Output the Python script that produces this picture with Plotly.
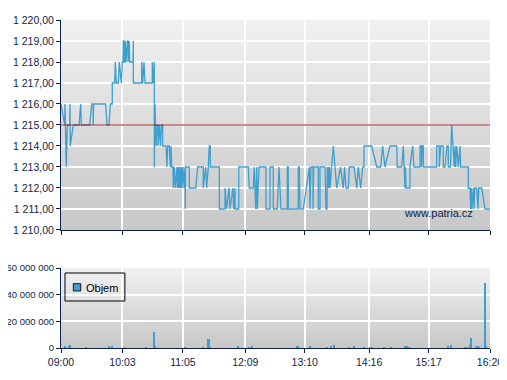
import plotly.graph_objects as go

# ---- data ----
time_labels = ["09:00", "10:03", "11:05", "12:09", "13:10", "14:16", "15:17", "16:20"]
time_ticks = [0, 63, 125, 189, 250, 316, 377, 440]  # minutes after 09:00

price_t = [0, 3.8, 4.1, 5.4, 6.5, 8.9, 9.2, 9.5, 12.6, 18.5, 20.2, 20.8, 29.4, 31.5, 33, 33, 33.5, 45.8,
           47.2, 49.2, 50.6, 52.6, 52.6, 55.1, 55.7, 56.7, 58.8, 59.8, 61.8, 62.9, 63.6, 63.9, 64.6, 64.6,
           65.9, 65.9, 66.7, 68.0, 68.7, 68.7, 70.0, 70.4, 73.8, 74.2, 74.2, 82.8, 82.8, 83.8, 85.1, 86.2,
           93.6, 93.6, 94.7, 95.7, 95.7, 96.4, 97.4, 98.5, 99.5, 99.5, 101.0, 102.0, 103.1, 104.3, 104.3,
           107.7, 108.7, 109.4, 111.1, 112.1, 112.8, 113.5, 114.9, 115.2, 116.2, 117.2, 119.0, 119.3, 120.0,
           120.5, 121.0, 121.5, 122.0, 122.6, 123.6, 124.1, 125.1, 126.2, 127.2, 127.5, 127.7, 131.6, 131.6,
           138.2, 140.2, 145.9, 145.9, 148.4, 149.4, 151.1, 152.1, 153.1, 153.1, 162.4, 162.4, 168.2, 168.2,
           169.9, 172.3, 173.3, 176.4, 177.1, 178.5, 178.5, 182.3, 182.3, 192.1, 193.1, 197.2, 198.2, 199.7,
           200.7, 201.3, 203.1, 210.2, 210.2, 214.4, 214.4, 217.7, 217.7, 221.8, 223.6, 224.6, 225.6, 232.1,
           232.1, 233.1, 233.1, 243.4, 243.4, 244.4, 245.1, 248.5, 254.7, 255.4, 256.4, 258.5, 258.5, 259.2,
           263.9, 263.9, 265.6, 265.6, 270.8, 271.8, 272.8, 273.1, 273.8, 274.4, 274.9, 275.4, 275.9, 279.3,
           281.0, 282.8, 286.7, 289.5, 290.8, 292.3, 294.7, 295.7, 300.5, 303.3, 304.9, 307.4, 309.4, 310.8,
           310.8, 318.7, 323.8, 327.9, 329.9, 332.3, 337.4, 344.3, 344.9, 349.4, 351.1, 352.1, 352.8, 353.3,
           353.8, 357.9, 357.9, 360.7, 362.0, 368.2, 368.2, 369.7, 369.7, 370.5, 371.6, 371.6, 385.3, 385.3,
           388.0, 388.0, 389.4, 392.1, 392.1, 393.8, 395.9, 397.2, 397.2, 399.5, 400.7, 403.4, 404.1, 404.8,
           405.8, 407.5, 409.2, 409.9, 417.7, 417.7, 419.5, 420.2, 420.8, 421.5, 422.9, 423.6, 424.3, 426.4,
           427.7, 428.4, 431.5, 434.9, 440.0]
price_v = [1216, 1215, 1216, 1213, 1215, 1215, 1216, 1214, 1215, 1215, 1216, 1215, 1215, 1216, 1216, 1215, 1216, 1216,
           1215, 1215, 1216, 1216, 1217, 1217, 1218, 1217, 1217, 1218, 1217, 1218, 1218, 1219, 1219, 1218,
           1218, 1219, 1218, 1219, 1219, 1218, 1219, 1218, 1218, 1219, 1217, 1217, 1218, 1217, 1218, 1217,
           1217, 1218, 1217, 1218, 1213, 1216, 1214, 1215, 1215, 1214, 1215, 1214, 1215, 1215, 1214,
           1214, 1213, 1214, 1214, 1213, 1214, 1213, 1213, 1212, 1213, 1212, 1213, 1212, 1213,
           1212, 1213, 1212, 1213, 1212, 1213, 1212, 1213, 1212, 1213, 1211, 1213, 1213, 1212,
           1212, 1213, 1213, 1212, 1213, 1212, 1213, 1214, 1214, 1213, 1213, 1211, 1211, 1212,
           1211, 1212, 1211, 1212, 1211, 1212, 1211, 1211, 1213, 1213, 1212, 1212, 1213, 1211,
           1213, 1211, 1213, 1213, 1211, 1211, 1213, 1213, 1211, 1211, 1213, 1212, 1211, 1211,
           1213, 1213, 1211, 1211, 1213, 1213, 1211, 1211, 1213, 1211, 1213, 1213, 1211, 1213,
           1213, 1211, 1211, 1213, 1213, 1211, 1211, 1213, 1212, 1213, 1212, 1213, 1212, 1214,
           1213, 1212, 1213, 1212, 1213, 1212, 1212, 1213, 1213, 1212, 1213, 1212, 1213, 1213,
           1214, 1214, 1213, 1213, 1214, 1213, 1214, 1214, 1213, 1213, 1214, 1213, 1212, 1213,
           1212, 1212, 1213, 1214, 1213, 1213, 1214, 1214, 1213, 1214, 1214, 1213, 1213, 1214,
           1214, 1213, 1214, 1214, 1213, 1213, 1214, 1214, 1213, 1213, 1215, 1213, 1214, 1213,
           1214, 1213, 1214, 1213, 1213, 1212, 1212, 1211, 1212, 1211, 1212, 1211, 1212, 1212,
           1211, 1212, 1212, 1211, 1211]

prev_close = 1215

vol_t = [4.1, 8.5, 9.2, 25.6, 49.5, 52.6, 65.6, 87.2, 95.7, 96.7, 127.2, 145.9, 151.1, 152.1, 152.8,
         181.8, 193.1, 196.2, 242.4, 243.4, 255.7, 273.1, 276.9, 280.0, 295.7, 300.8, 310.8, 316.9,
         318.7, 331.3, 338.5, 353.1, 355.2, 357.2, 397.2, 400.0, 414.3, 416.1, 419.5, 420.8, 425.6,
         428.0, 429.0, 434.9, 435.9]
vol_v = [1.0e6, 1.0e6, 2.2e6, 0.5e6, 1.5e6, 1.5e6, 0.5e6, 0.5e6, 11.7e6, 1.0e6, 0.5e6, 0.5e6, 6.6e6, 6.6e6, 0.5e6,
         1.5e6, 0.5e6, 1.5e6, 0.8e6, 0.8e6, 1.5e6, 0.5e6, 1.3e6, 2.2e6, 0.5e6, 1.3e6, 0.5e6, 0.5e6,
         0.5e6, 0.5e6, 0.5e6, 1.3e6, 0.8e6, 0.5e6, 1.3e6, 2.5e6, 0.5e6, 0.5e6, 2.5e6, 7.3e6, 0.8e6,
         1.3e6, 0.5e6, 48.6e6, 1.0e6]

price_ticks = [1210, 1211, 1212, 1213, 1214, 1215, 1216, 1217, 1218, 1219, 1220]
price_ticktext = ["1 210,00", "1 211,00", "1 212,00", "1 213,00", "1 214,00", "1 215,00",
                  "1 216,00", "1 217,00", "1 218,00", "1 219,00", "1 220,00"]
vol_ticks = [0, 20e6, 40e6, 60e6]
vol_ticktext = ["0", "20 000 000", "40 000 000", "60 000 000"]

# ---- style ----
NAVY = "#0f1f4d"
BLUE = "#3d9fd0"
FONT = "Liberation Sans, Arial, sans-serif"

fig = go.Figure()
fig.add_trace(go.Scatter(x=price_t, y=price_v, mode="lines", line=dict(color=BLUE, width=1.3),
                         xaxis="x", yaxis="y", showlegend=False))
fig.add_trace(go.Bar(x=vol_t, y=vol_v, width=0.9, marker=dict(color=BLUE, line=dict(width=0)),
                     xaxis="x2", yaxis="y2", showlegend=False))

shapes = []
# vertical gradient backgrounds
n = 40
for xr, yr in (("x domain", "y domain"), ("x2 domain", "y2 domain")):
    for i in range(n):
        f = i / (n - 1)
        c = int(round(0xc8 + (0xf0 - 0xc8) * f))
        shapes.append(dict(type="rect", xref=xr, yref=yr, x0=0, x1=1, y0=i / n, y1=(i + 1) / n + 0.002,
                           fillcolor=f"rgb({c},{c},{c})", line=dict(width=0), layer="below"))
# previous close line
shapes.append(dict(type="line", xref="x domain", yref="y", x0=0, x1=1, y0=prev_close, y1=prev_close,
                   line=dict(color="#8e1c1c", width=1), layer="above"))
# legend box
shapes.append(dict(type="rect", xref="x2 domain", yref="y2 domain", x0=0.0093, x1=0.1489, y0=0.5875, y1=0.9375,
                   line=dict(color="#000000", width=1), fillcolor="rgba(0,0,0,0)", layer="above"))
shapes.append(dict(type="rect", xref="x2 domain", yref="y2 domain", x0=0.0287, x1=0.0459, y0=0.7125, y1=0.804,
                   line=dict(color="#1a1a1a", width=1), fillcolor=BLUE, layer="above"))

annotations = [
    dict(text="Objem", xref="x2 domain", yref="y2 domain", x=0.0543, y=0.75, xanchor="left", yanchor="middle",
         showarrow=False, font=dict(family=FONT, size=11, color="#000000")),
    dict(text="www.patria.cz", xref="x domain", yref="y domain", x=0.8788, y=0.082, xanchor="center",
         yanchor="middle", showarrow=False, font=dict(family=FONT, size=11, color=NAVY)),
]

axis_common = dict(showgrid=True, gridcolor="#ffffff", gridwidth=1.5, zeroline=False,
                   showline=True, linecolor=NAVY, linewidth=1, ticks="outside", ticklen=4,
                   tickcolor=NAVY, tickfont=dict(family=FONT, size=10.5, color=NAVY))

# the page body has an 8px margin, so the figure is offset by (8, 8) in the window
fig.update_layout(
    width=499, height=372,
    margin=dict(l=53, r=17, t=12, b=32),
    paper_bgcolor="#ffffff", plot_bgcolor="#dcdcdc",
    shapes=shapes, annotations=annotations, bargap=0,
    xaxis=dict(axis_common, range=[0, 440], tickvals=time_ticks, ticktext=time_labels,
               showticklabels=False, anchor="y", domain=[0, 1]),
    yaxis=dict(axis_common, range=[1210, 1220], tickvals=price_ticks, ticktext=price_ticktext,
               domain=[0.3598, 1], anchor="x"),
    xaxis2=dict(axis_common, range=[0, 440], tickvals=time_ticks, ticktext=time_labels,
                anchor="y2", domain=[0, 1]),
    yaxis2=dict(axis_common, range=[0, 60e6], tickvals=vol_ticks, ticktext=vol_ticktext,
                domain=[0, 0.2439], anchor="x2",
                tickfont=dict(family=FONT, size=9.5, color=NAVY)),
)
fig.update_yaxes(automargin=False)
fig.update_xaxes(automargin=False)

fig.write_html("out.html")
